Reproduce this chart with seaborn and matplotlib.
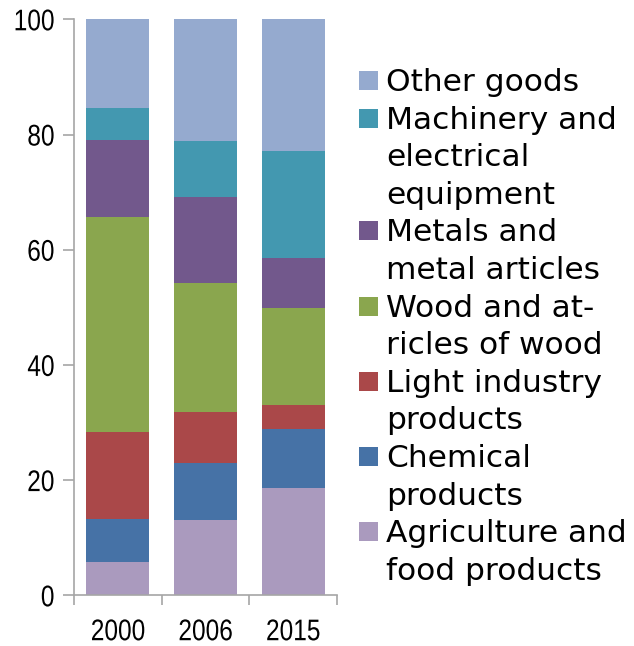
import matplotlib
matplotlib.use("Agg")
import matplotlib.pyplot as plt
from matplotlib.patches import Rectangle
from matplotlib.patheffects import AbstractPathEffect
from matplotlib.transforms import Affine2D
import seaborn as sns
import numpy as np

years = ["2000", "2006", "2015"]
categories = [
    "Agriculture and\nfood products",
    "Chemical\nproducts",
    "Light industry\nproducts",
    "Wood and at-\nricles of wood",
    "Metals and\nmetal articles",
    "Machinery and\nelectrical\nequipment",
    "Other goods",
]
agriculture = [5.8, 13.1, 18.6]
chemical = [7.4, 9.8, 10.3]
light_industry = [15.2, 8.9, 4.1]
wood = [37.3, 22.4, 16.9]
metals = [13.3, 15.0, 8.7]
machinery = [5.6, 9.7, 18.5]
other = [15.4, 21.1, 22.9]
y_ticks = [0, 20, 40, 60, 80, 100]

series = [agriculture, chemical, light_industry, wood, metals, machinery, other]
colors = ["#AA9ABE", "#4672A6", "#AA4849", "#8AA64E", "#72588C", "#4398B0", "#95AACF"]


class Condensed(AbstractPathEffect):
    """Squeeze glyphs horizontally about the right edge or the centre of the text."""

    def __init__(self, sx=0.82, anchor="center"):
        super().__init__()
        self.sx = sx
        self.anchor = anchor

    def draw_path(self, renderer, gc, tpath, affine, rgbFace=None):
        ext = tpath.get_extents()
        cx = ext.x1 if self.anchor == "right" else 0.5 * (ext.x0 + ext.x1)
        squeeze = Affine2D().translate(-cx, 0).scale(self.sx, 1).translate(cx, 0)
        renderer.draw_path(gc, tpath, squeeze + affine, rgbFace)


sns.set_style("white")
plt.rcParams["font.family"] = ["DejaVu Sans"]
plt.rcParams["text.color"] = "black"

tick_font = dict(family="Liberation Sans", size=21.5, color="black")

W, H = 634, 646
fig = plt.figure(figsize=(W / 100, H / 100), dpi=100)
ax = fig.add_axes([74 / W, 1 - 595.3 / H, (337 - 74) / W, (595.3 - 19.3) / H])

bottom = np.zeros(len(years))
for vals, col in zip(series, colors):
    sns.barplot(x=years, y=vals, bottom=bottom, color=col, width=0.72,
                saturation=1, ax=ax, linewidth=0)
    bottom = bottom + np.array(vals)

ax.set_xlim(-0.5, 2.5)
ax.set_ylim(0, 100)
ax.set_yticks(y_ticks)
ax.set_xticks([0, 1, 2])
ax.set_xticks([-0.5, 0.5, 1.5, 2.5], minor=True)
ax.set_yticklabels([str(t) for t in y_ticks], fontdict=tick_font)
ax.set_xticklabels(years, fontdict=tick_font)
for t in ax.get_yticklabels():
    t.set_path_effects([Condensed(0.82, "right")])
for t in ax.get_xticklabels():
    t.set_path_effects([Condensed(0.82, "center")])

grey = "#A6A6A6"
ax.tick_params(axis="y", which="major", length=8, width=1.2, color=grey,
               direction="out", pad=6, left=True)
ax.tick_params(axis="x", which="major", length=0, pad=16.5)
ax.tick_params(axis="x", which="minor", length=7.5, width=1.2, color=grey,
               direction="out", bottom=True)

for side in ["top", "right"]:
    ax.spines[side].set_visible(False)
for side in ["left", "bottom"]:
    ax.spines[side].set_color(grey)
    ax.spines[side].set_linewidth(1.2)
ax.set_xlabel("")
ax.set_ylabel("")

# Legend: swatch beside the first line of each entry, entries top-down
line_step = 37.6
baseline = 91.0
for label, col in zip(categories[::-1], colors[::-1]):
    lines = label.split("\n")
    fig.patches.append(Rectangle((359.3 / W, 1 - (baseline - 1) / H), 19 / W, 19 / H,
                                 transform=fig.transFigure, facecolor=col,
                                 edgecolor="none"))
    for ln in lines:
        fig.text(386 / W, 1 - baseline / H, ln, fontsize=22.5, color="black",
                 ha="left", va="baseline", family="DejaVu Sans")
        baseline += line_step

fig.savefig("out.png", dpi=100)
